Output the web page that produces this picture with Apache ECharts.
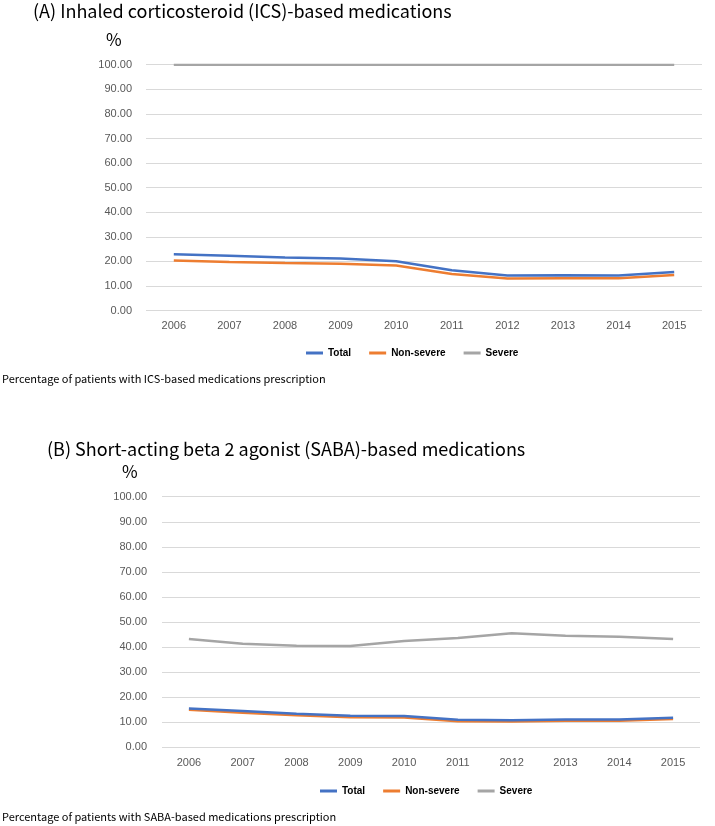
<!DOCTYPE html>
<html>
<head>
<meta charset="utf-8">
<style>html,body{margin:0;padding:0;background:#fff;}#c{width:715px;height:826px;}</style>
<script src="https://cdn.jsdelivr.net/npm/echarts@6/dist/echarts.min.js"></script>
</head>
<body>
<div id="c"></div>
<script>
const years = ['2006','2007','2008','2009','2010','2011','2012','2013','2014','2015'];
const seriesNames = ['Total','Non-severe','Severe'];
const icsTotal     = [22.9, 22.3, 21.6, 21.2, 20.1, 16.4, 14.3, 14.4, 14.3, 15.7];
const icsNonSevere = [20.4, 19.8, 19.4, 19.1, 18.3, 14.9, 13.1, 13.2, 13.2, 14.5];
const icsSevere    = [100, 100, 100, 100, 100, 100, 100, 100, 100, 100];
const sabaTotal     = [15.5, 14.5, 13.4, 12.6, 12.5, 11.0, 10.8, 11.1, 11.1, 11.8];
const sabaNonSevere = [15.0, 13.8, 12.8, 12.0, 11.9, 10.4, 10.3, 10.6, 10.6, 11.3];
const sabaSevere    = [43.2, 41.3, 40.5, 40.4, 42.4, 43.6, 45.5, 44.5, 44.1, 43.2];
const yTicks = [0,10,20,30,40,50,60,70,80,90,100];

const colors = ['#4472C4','#ED7D31','#A5A5A5'];
const titleFont = '"Noto Sans CJK KR", "Noto Sans", sans-serif';
const axisFont = '"Liberation Sans", Arial, sans-serif';

const chart = echarts.init(document.getElementById('c'), null, {renderer:'canvas'});

function yAxis(gi, margin){
  return {
    gridIndex: gi, type:'value', min: yTicks[0], max: yTicks[yTicks.length-1], interval: yTicks[1]-yTicks[0],
    axisLine:{show:false}, axisTick:{show:false},
    splitLine:{lineStyle:{color:'#D9D9D9', width:1}},
    axisLabel:{formatter: v => v.toFixed(2), color:'#595959', fontSize:11, fontFamily:axisFont, margin: margin}
  };
}
function xAxis(gi){
  return {
    gridIndex: gi, type:'category', data: years, boundaryGap:true,
    axisLine:{show:false}, axisTick:{show:false},
    axisLabel:{color:'#595959', fontSize:11, fontFamily:axisFont, margin:10}
  };
}
function line(name, data, gi, ci){
  return {name, type:'line', data, xAxisIndex:gi, yAxisIndex:gi, symbol:'none', smooth:false,
    lineStyle:{color:colors[ci], width:2.5}, itemStyle:{color:colors[ci]}, z: 3 - ci + 2};
}
function legend(left, top){
  return {data: seriesNames, left, top, icon:'rect', itemWidth:17, itemHeight:3, itemGap:18,
    textStyle:{fontSize:10, fontWeight:'bold', color:'#000', fontFamily:axisFont}};
}
function txt(x, y, text, size, color){
  return {type:'text', x, y, style:{text, fill:color||'#000', font: size+'px '+titleFont, align:'left', verticalAlign:'middle'}};
}

chart.setOption({
  animation:false,
  grid:[
    {left:146, right:13, top:64.7, bottom:515.4, containLabel:false},
    {left:162, right:15, top:496.7, bottom:78.7, containLabel:false}
  ],
  xAxis:[xAxis(0), xAxis(1)],
  yAxis:[yAxis(0,14), yAxis(1,15)],
  legend:[legend(301, 343), legend(315, 781)],
  series:[
    line('Severe', icsSevere, 0, 2),
    line('Non-severe', icsNonSevere, 0, 1),
    line('Total', icsTotal, 0, 0),
    line('Severe', sabaSevere, 1, 2),
    line('Non-severe', sabaNonSevere, 1, 1),
    line('Total', sabaTotal, 1, 0)
  ],
  graphic:[
    txt(33, 11, '(A) Inhaled corticosteroid (ICS)-based medications', 18),
    txt(106, 40, '%', 17),
    txt(2, 379, 'Percentage of patients with ICS-based medications prescription', 11),
    txt(47, 449, '(B) Short-acting beta 2 agonist (SABA)-based medications', 18),
    txt(122, 472, '%', 17),
    txt(2, 817, 'Percentage of patients with SABA-based medications prescription', 11)
  ]
});
</script>
</body>
</html>
